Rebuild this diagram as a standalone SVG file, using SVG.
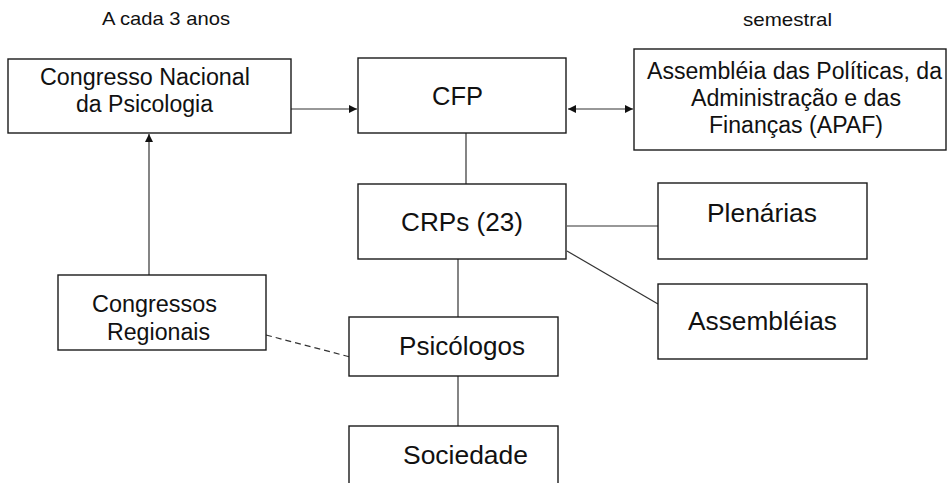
<svg xmlns="http://www.w3.org/2000/svg" width="948" height="483" viewBox="0 0 948 483">
<defs>
<style>
.box{fill:#fff;stroke:#1a1a1a;stroke-width:1.4}
.t{font-family:"Liberation Sans",Arial,sans-serif;font-size:23.3px;fill:#111}
.b{font-family:"Liberation Sans",Arial,sans-serif;font-size:26px;fill:#111}
.s{font-family:"Liberation Sans",Arial,sans-serif;font-size:19px;fill:#111}
.c{fill:none;stroke:#333;stroke-width:1.2}
.d{fill:none;stroke:#333;stroke-width:1.2;stroke-dasharray:6,4}
</style>
<marker id="ah" viewBox="0 0 10 10" refX="10" refY="5" markerWidth="10" markerHeight="8" markerUnits="userSpaceOnUse" orient="auto-start-reverse">
<path d="M0,0 L10,5 L0,10 z" fill="#111"/>
</marker>
</defs>
<rect width="948" height="483" fill="#fff"/>
<text class="s" x="102" y="25" textLength="128" lengthAdjust="spacingAndGlyphs">A cada 3 anos</text>
<text class="s" x="743" y="26" textLength="89" lengthAdjust="spacingAndGlyphs">semestral</text>
<g id="connectors">
<line class="c" x1="283" y1="109" x2="357" y2="109" marker-end="url(#ah)"/>
<line class="c" x1="568" y1="109" x2="633" y2="109" marker-start="url(#ah)" marker-end="url(#ah)"/>
<line class="c" x1="149" y1="275" x2="149" y2="134" marker-end="url(#ah)"/>
<line class="c" x1="466" y1="133" x2="466" y2="184"/>
<line class="c" x1="458" y1="259" x2="458" y2="317"/>
<line class="c" x1="458" y1="376" x2="458" y2="426"/>
<line class="c" x1="567" y1="226" x2="658" y2="226"/>
<line class="c" x1="567" y1="251" x2="658" y2="304"/>
<line class="d" x1="266" y1="335" x2="354" y2="358"/>
</g>
<g id="congresso-nacional">
<rect class="box" x="8" y="59" width="283" height="74"/>
<text class="t" x="40" y="85" textLength="210" lengthAdjust="spacingAndGlyphs">Congresso Nacional</text>
<text class="t" x="76" y="112" textLength="137" lengthAdjust="spacingAndGlyphs">da Psicologia</text>
</g>
<g id="cfp">
<rect class="box" x="358" y="58" width="208" height="75"/>
<text class="b" x="432" y="105" textLength="51" lengthAdjust="spacingAndGlyphs">CFP</text>
</g>
<g id="apaf">
<rect class="box" x="634" y="49" width="312" height="101"/>
<text class="t" x="647" y="79" textLength="295" lengthAdjust="spacingAndGlyphs">Assembléia das Políticas, da</text>
<text class="t" x="691" y="106" textLength="210" lengthAdjust="spacingAndGlyphs">Administração e das</text>
<text class="t" x="709" y="133" textLength="174" lengthAdjust="spacingAndGlyphs">Finanças (APAF)</text>
</g>
<g id="crps">
<rect class="box" x="358" y="184" width="208" height="75"/>
<text class="b" x="401" y="231" textLength="122" lengthAdjust="spacingAndGlyphs">CRPs (23)</text>
</g>
<g id="plenarias">
<rect class="box" x="658" y="183" width="209" height="76"/>
<text class="b" x="707" y="222" textLength="110" lengthAdjust="spacingAndGlyphs">Plenárias</text>
</g>
<g id="assembleias">
<rect class="box" x="658" y="284" width="209" height="75"/>
<text class="b" x="688" y="330" textLength="149" lengthAdjust="spacingAndGlyphs">Assembléias</text>
</g>
<g id="congressos-regionais">
<rect class="box" x="58" y="275" width="208" height="75"/>
<text class="t" x="92" y="312" textLength="125" lengthAdjust="spacingAndGlyphs">Congressos</text>
<text class="t" x="107" y="340" textLength="103" lengthAdjust="spacingAndGlyphs">Regionais</text>
</g>
<g id="psicologos">
<rect class="box" x="349" y="317" width="209" height="59"/>
<text class="b" x="399" y="355" textLength="126" lengthAdjust="spacingAndGlyphs">Psicólogos</text>
</g>
<g id="sociedade">
<rect class="box" x="349" y="426" width="209" height="70"/>
<text class="b" x="403" y="464" textLength="125" lengthAdjust="spacingAndGlyphs">Sociedade</text>
</g>
</svg>
